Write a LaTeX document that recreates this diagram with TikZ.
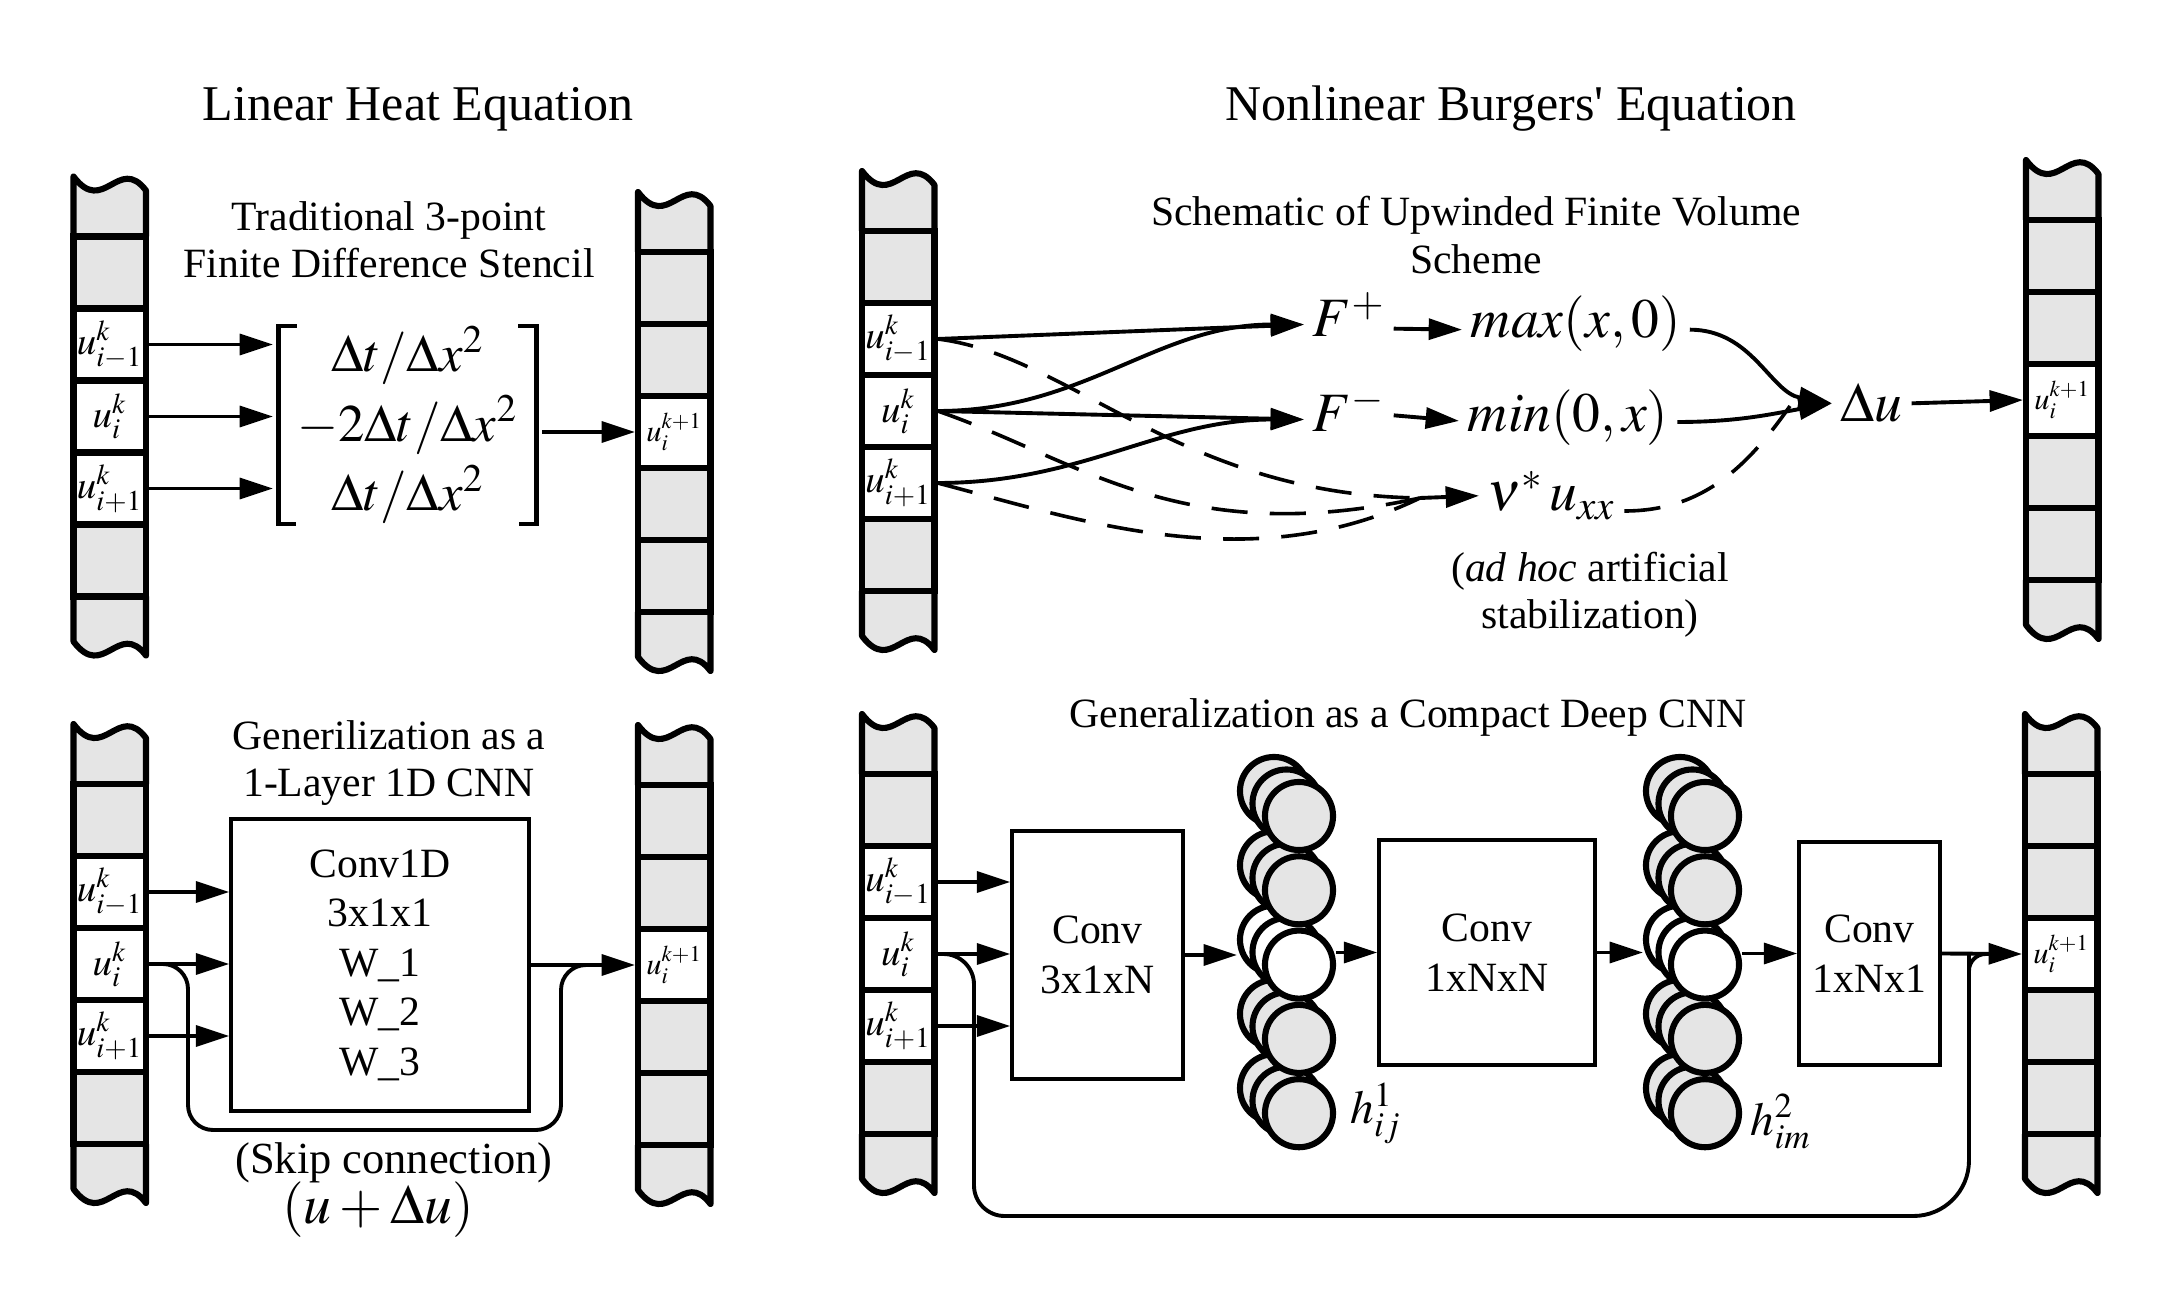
\documentclass[tikz,border=0pt]{standalone}
\usepackage{mathptmx}
\usepackage[no-math]{fontspec}
\setmainfont{Liberation Serif}
\usetikzlibrary{arrows.meta,calc}

\colorlet{tapegray}{black!10}
\tikzset{
  tapeline/.style={line width=2.2pt, line join=round},
  cell/.style={draw, rectangle, line width=2.2pt, minimum width=26.1pt, minimum height=25.9pt, inner sep=0pt, font=\fontsize{14}{14}\selectfont},
  arr/.style={line width=1.4pt, -{Triangle[length=12pt,width=7.5pt]}},
  dline/.style={line width=1.3pt, dash pattern=on 13pt off 8pt},
  box/.style={draw, line width=1.3pt, align=center, inner sep=0pt, font=\fontsize{15}{17.8}\selectfont},
  txt/.style={align=center, font=\fontsize{15}{17}\selectfont},
  title/.style={font=\fontsize{18}{20}\selectfont},
  eq/.style={inner sep=3pt, font=\fontsize{20}{22}\selectfont},
  unit/.style={circle, draw, line width=2.2pt, minimum size=24.5pt, inner sep=0pt},
}

% a strip of cells: name, left x, y of first separator, fill/text list
\newcommand{\tape}[4]{%
  \draw[tapeline, fill=tapegray] (#2,#3) -- ++(0,-60) .. controls +(30,40) and +(-27.5,-36) .. ++(72.5,14) -- ++(0,46);
  \draw[tapeline, fill=tapegray] (#2,#3+360) -- ++(0,45) .. controls +(30,40) and +(-27.5,-36) .. ++(72.5,14) -- ++(0,-59);
  \foreach \cf/\ct [count=\ci] in #4 {
    \node[cell, fill=\cf] (#1-\ci) at (#2+36.25,#3+72*\ci-36) {\ct};
  }
}
\def\incells{tapegray/{},white/{$u^k_{i-1}$},white/{$u^k_i$},white/{$u^k_{i+1}$},tapegray/{}}
\def\outcells{tapegray/{},tapegray/{},white/{\fontsize{11}{11}\selectfont$u_i^{k+1}$},tapegray/{},tapegray/{}}

\begin{document}
\begin{tikzpicture}[x=0.36pt, y=-0.36pt]
\useasboundingbox (0,0) rectangle (2173,1307);

\node[title] (t1) at (418,109) {Linear Heat Equation};
\node[title] (t2) at (1511,109) {Nonlinear Burgers\textquotesingle{} Equation};

\tape{ha}{73.5}{236.5}{\incells}
\tape{ho}{638}{252}{\outcells}
\tape{ba}{862}{231}{\incells}
\tape{bo}{2026}{220}{\outcells}
\tape{ca}{73.5}{784}{\incells}
\tape{co}{638}{785}{\outcells}
\tape{da}{862}{774}{\incells}
\tape{do}{2025}{774}{\outcells}

% heat equation stencil
\node[txt] (s1) at (389,240) {Traditional 3-point\\Finite Difference Stencil};
\node[minimum width=92.5pt, minimum height=69.8pt, inner sep=0pt, align=center, font=\fontsize{19}{25}\selectfont] (st) at (407.5,425)
  {$\Delta t/\Delta x^2$\\$-2\Delta t/\Delta x^2$\\$\Delta t/\Delta x^2$};
\draw[line width=1.5pt] ([xshift=6.5pt]st.north west) -| (st.south west) -- ++(18,0);
\draw[line width=1.5pt] ([xshift=-6.5pt]st.north east) -| (st.south east) -- ++(-18,0);
\foreach \r in {2,3,4}
  \draw[arr, shorten >=2pt] (ha-\r.east) -- (ha-\r.east -| st.west);
\draw[arr, shorten <=2pt] (st.east |- ho-3) -- (ho-3.west);

% upwinded finite volume
\node[txt] (s2) at (1476,235) {Schematic of Upwinded Finite Volume\\Scheme};
\node[eq, anchor=base west] (Fp) at (1304,337) {$F^+$};
\node[eq, anchor=base west] (Fm) at (1304,432) {$F^-$};
\node[eq, anchor=base west] (mx) at (1462,338) {$max(x,0)$};
\node[eq, anchor=base west] (mn) at (1459,432) {$min(0,x)$};
\node[eq, anchor=base west] (nu) at (1479,511) {$\nu^*\,u_{xx}$};
\node[eq, anchor=base west] (du) at (1832,422) {$\Delta u$};
\node[txt] (adhoc) at (1590,595) {(\textit{ad hoc} artificial\\stabilization)};
\coordinate (nuin) at (1420,498);
\coordinate (duin) at (1790,406);

\draw[arr] (ba-2.east) -- ([yshift=4.5pt]Fp.base west);
\draw[arr] (ba-3.east) to[out=0,in=180] ([yshift=4.5pt]Fp.base west);
\draw[arr] (ba-3.east) -- ([yshift=4.5pt]Fm.base west);
\draw[arr] (ba-4.east) to[out=0,in=180] ([yshift=4.5pt]Fm.base west);
\draw[dline] (ba-2.east) .. controls (1070,355) and (1180,495) .. (nuin);
\draw[dline] (ba-3.east) .. controls (1080,460) and (1180,550) .. (nuin);
\draw[dline] (ba-4.east) .. controls (1080,520) and (1250,580) .. (nuin);
\draw[arr] (nuin) -- (nu.west);
\draw[arr] ([yshift=3pt]Fp.base east) -- ([yshift=3pt]mx.base west);
\draw[arr] ([yshift=6pt]Fm.base east) -- ([yshift=4pt]mn.base west);
\draw[arr] ([yshift=3pt]mx.base east) to[out=0,in=170] (du.west);
\draw[arr] ([yshift=3.6pt]mn.base east) to[out=0,in=190] (du.west);
\draw[dline] (nu.base east) to[out=0,in=-125] (duin);
\draw[arr] (du.east) -- (bo-3.west);

% one layer cnn
\node[txt] (s3) at (389,763) {Generilization as a\\1-Layer 1D CNN};
\node[box, minimum width=107.3pt, minimum height=105.1pt] (conv) at (380,965) {Conv1D\\3x1x1\\W\_1\\W\_2\\W\_3};
\foreach \r in {2,3,4}
  \draw[arr] (ca-\r.east) -- (ca-\r.east -| conv.west);
\draw[arr] (conv.east) -- (co-3.west);
\coordinate (sk1) at (188,1130);
\coordinate (sk2) at (561,1130);
\draw[line width=1.4pt, rounded corners=9pt, shorten >=11pt] (ca-3.east) -| (sk1) -- (sk2) |- (co-3.west);
\node[txt, font=\fontsize{16}{18}\selectfont] (sklab) at (394,1163) {(Skip connection)};
\node[eq, inner sep=1pt] (skeq) at (378,1210) {$(u+\Delta u)$};

% deep cnn
\node[txt] (s4) at (1408,717) {Generalization as a Compact Deep CNN};
\node[box, minimum width=61.6pt, minimum height=89.3pt] (cv1) at (1097.5,955) {Conv\\3x1xN};
\node[box, minimum width=77.8pt, minimum height=81pt] (cv2) at (1487,952.5) {Conv\\1xNxN};
\node[box, minimum width=50.8pt, minimum height=80.3pt] (cv3) at (1869.5,953.5) {Conv\\1xNx1};
\foreach \c/\cx in {1/1299, 2/1705}
  \foreach \l/\d in {b/25, m/12.5, f/0}
    \foreach \r/\fc in {1/tapegray, 2/tapegray, 3/white, 4/tapegray, 5/tapegray}
      \node[unit, fill=\fc] (n\c\l\r) at (\cx-\d, 816+74.3*\r-74.3-\d) {};
\node[eq, anchor=west, font=\fontsize{17}{19}\selectfont] (h1) at ([xshift=2pt]n1f5.east) {$h^1_{ij}$};
\node[eq, anchor=west, font=\fontsize{17}{19}\selectfont] (h2) at ([yshift=-3pt]n2f5.east) {$h^2_{im}$};

\foreach \r in {2,3,4}
  \draw[arr] (da-\r.east) -- (da-\r.east -| cv1.west);
\draw[arr] (cv1.east) -- (cv1.east -| n1b3.west);
\draw[arr] (cv2.west -| n1f3.east) -- (cv2.west);
\draw[arr] (cv2.east) -- (cv2.east -| n2b3.west);
\draw[arr] (cv3.west -| n2f3.east) -- (cv3.west);
\draw[arr] (cv3.east) -- (do-3.west);
\coordinate (sk3) at (974,1216);
\coordinate (sk4) at (1969,1216);
\coordinate (sk5) at (1969,1010);
\draw[line width=1.4pt, shorten >=11pt] (da-3.east) [rounded corners=11pt] -| (sk3) [rounded corners=20pt] -- (sk4) -- (sk5) [rounded corners=6pt] |- (do-3.west);
\end{tikzpicture}
\end{document}
